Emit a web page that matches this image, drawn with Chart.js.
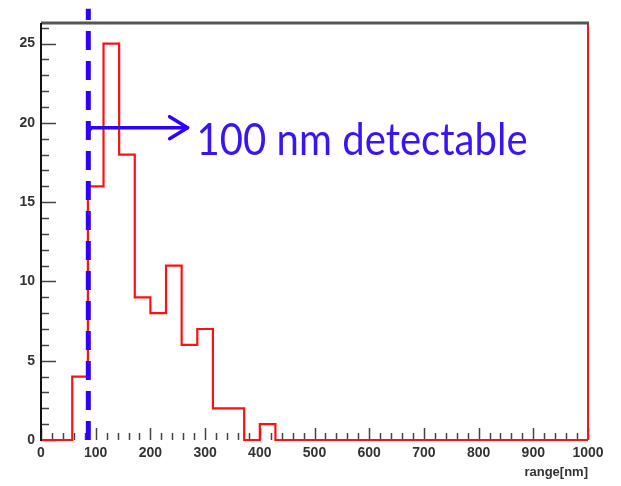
<!DOCTYPE html>
<html>
<head>
<meta charset="utf-8">
<script src="https://cdn.jsdelivr.net/npm/chart.js@4"></script>
<style>
html,body{margin:0;padding:0;background:#fff;}
#wrap{width:621px;height:486px;position:relative;}
</style>
</head>
<body>
<div id="wrap"><canvas id="c" width="621" height="486"></canvas></div>
<script>
// ---- data ----
const rangeMin = 0;
const rangeMax = 1000;
const counts = [0, 0, 4, 16, 25, 18, 9, 8, 11, 6, 7, 2, 2, 0, 1,
                0, 0, 0, 0, 0, 0, 0, 0, 0, 0, 0, 0, 0, 0, 0, 0, 0, 0, 0, 0];
const xTickLabels = [0, 100, 200, 300, 400, 500, 600, 700, 800, 900, 1000];
const yTickLabels = [0, 5, 10, 15, 20, 25];
const yMax = 26.3;
const cutX = 86.5;          // dashed detection threshold line
const arrowY = 19.7;
const arrowEndX = 268;
const annotationText = '100 nm detectable';
const xTitle = 'range[nm]';

// histogram outline points at bin edges
const binW = (rangeMax - rangeMin) / counts.length;
const histPts = counts.map((v, i) => ({x: rangeMin + i * binW, y: v}));
histPts.push({x: rangeMax, y: counts[counts.length - 1]});

const RED = '#ff1010';
const BLUE = '#3000ff';

const framePlugin = {
  id: 'frame',
  beforeDatasetsDraw(chart) {
    const {ctx, chartArea: a, scales: {x, y}} = chart;
    ctx.save();
    ctx.strokeStyle = '#444';
    ctx.lineWidth = 1.5;
    ctx.beginPath();
    for (let v = 0; v <= 26; v++) {
      const py = Math.round(y.getPixelForValue(v)) + 0.5;
      const len = v % 5 === 0 ? 15 : 8;
      ctx.moveTo(a.left, py); ctx.lineTo(a.left + len, py);
    }
    for (let v = 0; v <= rangeMax; v += 20) {
      const px = Math.round(x.getPixelForValue(v)) + 0.5;
      const len = v % 100 === 0 ? 12 : 7;
      ctx.moveTo(px, a.bottom); ctx.lineTo(px, a.bottom - len);
    }
    ctx.stroke();
    ctx.restore();
  },
  afterDraw(chart) {
    const {ctx, chartArea: a, scales: {x, y}} = chart;
    ctx.save();
    ctx.strokeStyle = '#555';
    ctx.lineWidth = 3;
    ctx.beginPath();
    ctx.moveTo(a.left, a.top); ctx.lineTo(a.right + 1, a.top);
    ctx.stroke();
    ctx.strokeStyle = '#111';
    ctx.lineWidth = 2;
    ctx.beginPath();
    ctx.moveTo(a.left, a.top); ctx.lineTo(a.left, a.bottom + 1);
    ctx.stroke();
    // arrow
    const x0 = x.getPixelForValue(cutX);
    const x1 = x.getPixelForValue(arrowEndX);
    const py = y.getPixelForValue(arrowY);
    ctx.strokeStyle = BLUE;
    ctx.lineWidth = 3.5;
    ctx.lineCap = 'round';
    ctx.lineJoin = 'round';
    ctx.beginPath();
    ctx.moveTo(x0, py + 4); ctx.lineTo(x0 + 3, py); ctx.lineTo(x1, py);
    ctx.stroke();
    ctx.beginPath();
    ctx.moveTo(x1 - 18, py - 11); ctx.lineTo(x1, py); ctx.lineTo(x1 - 18, py + 11);
    ctx.stroke();
    // annotation text
    ctx.fillStyle = '#3a14f5';
    ctx.font = '44px Lato';
    ctx.textBaseline = 'alphabetic';
    const w = ctx.measureText(annotationText).width;
    const target = 331;
    ctx.translate(x1 + 9, py + 27);
    ctx.scale(target / w, 1);
    ctx.fillText(annotationText, 0, 0);
    ctx.restore();
  }
};

new Chart(document.getElementById('c'), {
  type: 'line',
  data: {
    datasets: [
      {
        data: [{x: cutX, y: 0}, {x: cutX, y: 27.2}],
        borderColor: BLUE, borderWidth: 5, borderDash: [19, 11],
        pointRadius: 0, fill: false, clip: false, order: 0
      },
      {
        data: histPts, stepped: 'before',
        borderColor: RED, borderWidth: 2.2,
        pointRadius: 0, fill: false, clip: false, order: 1
      },
      {
        data: [{x: rangeMax, y: 0}, {x: rangeMax, y: yMax}],
        borderColor: RED, borderWidth: 2,
        pointRadius: 0, fill: false, clip: false, order: 2
      }
    ]
  },
  options: {
    responsive: false,
    animation: false,
    events: [],
    layout: {padding: {top: 23, right: 33, left: 0, bottom: 0}},
    plugins: {legend: {display: false}, tooltip: {enabled: false}},
    scales: {
      x: {
        type: 'linear', min: rangeMin, max: rangeMax,
        afterBuildTicks: s => { s.ticks = xTickLabels.map(v => ({value: v})); },
        afterFit: s => { s.height = 46; },
        grid: {display: false, drawTicks: false},
        border: {display: false},
        ticks: {padding: 5, color: '#333', font: {family: 'Liberation Sans', size: 14, weight: 'bold'},
                maxRotation: 0, autoSkip: false, callback: v => String(v)},
        title: {display: true, text: xTitle, align: 'end', color: '#333',
                padding: {top: 0, bottom: 6},
                font: {family: 'Liberation Sans', size: 13, weight: 'bold'}}
      },
      y: {
        type: 'linear', min: 0, max: yMax,
        afterBuildTicks: s => { s.ticks = yTickLabels.map(v => ({value: v})); },
        afterFit: s => { s.width = 41; },
        grid: {display: false, drawTicks: false},
        border: {display: false},
        ticks: {padding: 6, color: '#333', font: {family: 'Liberation Sans', size: 14, weight: 'bold'},
                callback: v => String(v)}
      }
    }
  },
  plugins: [framePlugin]
});
</script>
</body>
</html>
